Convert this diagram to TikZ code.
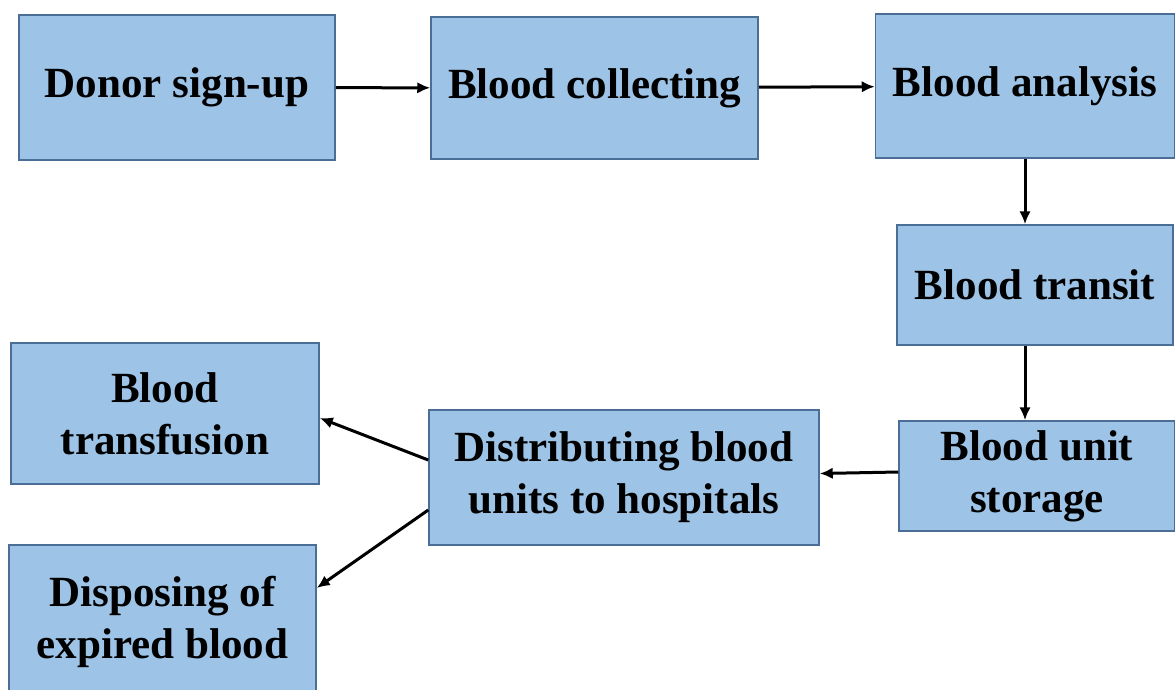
\documentclass[tikz,border=0pt]{standalone}
\usepackage{fontspec}
\setmainfont{Liberation Serif}
\usepackage{tikz}
\usetikzlibrary{arrows.meta}
\definecolor{boxfill}{HTML}{9DC3E6}
\definecolor{boxline}{HTML}{4A6E96}

\begin{document}
\begin{tikzpicture}[x=0.2mm,y=-0.2mm,
  stage/.style={draw=boxline,fill=boxfill,line width=0.3mm,inner sep=0pt,align=center,
    font=\fontsize{24.5}{29.5}\selectfont\bfseries},
  flow/.style={line width=0.6mm,-{Latex[length=2.6mm,width=2.3mm]}}]
\useasboundingbox (0,0) rectangle (1175,689);
\clip (0,0) rectangle (1175,689);
\node (donor) at (177,87.5) [stage,minimum width=63.2mm,minimum height=29mm]{Donor sign-up};
\node (collect) at (594.5,88) [stage,minimum width=65.4mm,minimum height=28.4mm]{Blood collecting};
\node (analysis) at (1025,86) [stage,minimum width=59.8mm,minimum height=28.8mm]{Blood analysis};
\node (transit) at (1035,285) [stage,minimum width=55.2mm,minimum height=24mm]{Blood transit};
\node (storage) at (1037,476) [stage,minimum width=55.2mm,minimum height=22mm]{Blood unit\\storage};
\node (distrib) at (624,477.5) [stage,minimum width=78mm,minimum height=27mm]{Distributing blood\\units to hospitals};
\node (transf) at (165,413.5) [stage,minimum width=61.6mm,minimum height=28.2mm]{Blood\\transfusion};
\node (dispose) at (162.5,622) [stage,minimum width=61.4mm,minimum height=30.8mm]{\raisebox{1mm}{\begin{tabular}{@{}c@{}}Disposing of\\expired blood\end{tabular}}};
\draw[flow] (donor) -- (collect);
\draw[flow] (collect) -- (analysis);
\draw[flow] (analysis.south) -- (analysis.south |- transit.north);
\draw[flow] (analysis.south |- transit.south) -- (analysis.south |- storage.north);
\draw[flow] ([yshift=0.8mm]storage.west) -- ([yshift=0.8mm]distrib.east);
\draw[flow] ([yshift=3.5mm]distrib.west) -- ([yshift=-0.9mm]transf.east);
\draw[flow] ([yshift=-6.5mm]distrib.west) -- ([yshift=6.8mm]dispose.east);
\end{tikzpicture}
\end{document}
